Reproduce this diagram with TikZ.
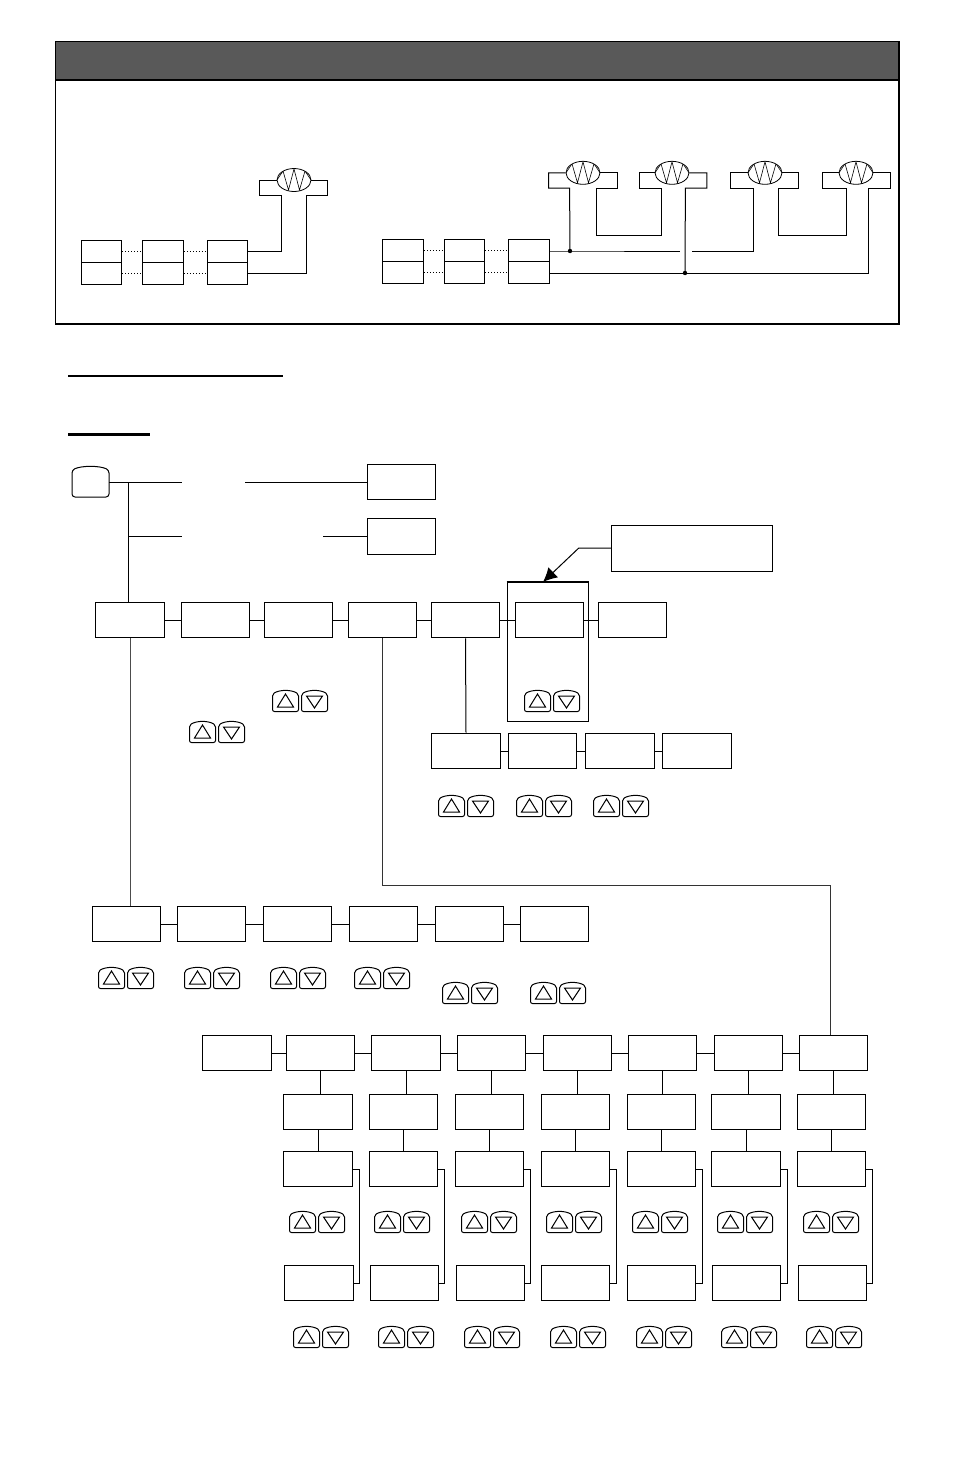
\documentclass[tikz,border=0pt]{standalone}
\usepackage{xcolor}
\usetikzlibrary{arrows.meta,shapes.geometric}

\begin{document}
\begin{tikzpicture}[x=0.5pt, y=-0.5pt, line width=0.5pt,
  screen/.style={draw, inner sep=0, minimum width=34.2pt, minimum height=17.8pt},
  halfbox/.style={draw, inner sep=0, minimum width=20.4pt, minimum height=11pt},
  heater/.style={draw, ellipse, line width=0.4pt, inner sep=0, minimum width=17pt, minimum height=11.5pt,
    path picture={\draw[line width=0.3pt, shift={(path picture bounding box.center)}]
      (-17,0) -- (-11,-9) -- (-5.5,10) -- (0,-11) -- (5.5,10) -- (11,-9) -- (17,0);}},
  dot/.style={circle, fill, inner sep=0, minimum size=2.2pt},
  updown/.pic={
    \draw[rounded corners=1pt] (-27.5,-7) .. controls (-20,-11.5) and (-9,-11.5) .. (-1.5,-7)
      -- (-1.5,10.5) -- (-27.5,10.5) -- cycle;
    \draw (-14.5,-7) -- (-6.5,6) -- (-22.5,6) -- cycle;
    \draw[rounded corners=1pt] (1.5,-7) .. controls (9,-11.5) and (20,-11.5) .. (27.5,-7)
      -- (27.5,10.5) -- (1.5,10.5) -- cycle;
    \draw (6.5,-5) -- (22.5,-5) -- (14.5,7) -- cycle;
  }]
\useasboundingbox (0,0) rectangle (954,1474);

% Panel with dark header
\fill[black!65] (55.5,41.5) rectangle (899,80);
\draw[line width=0.7pt] (55.5,41.5) rectangle (899,324);
\draw[line width=0.7pt] (55.5,80) -- (899,80);

% Single heater: three units
\node[halfbox] (a1t) at (101.5,251) {};
\node[halfbox] (a1b) at (101.5,273) {};
\node[halfbox] (a2t) at (163,251) {};
\node[halfbox] (a2b) at (163,273) {};
\node[halfbox] (a3t) at (227.5,251) {};
\node[halfbox] (a3b) at (227.5,273) {};
\draw[densely dotted] (a1t) -- (a2t) -- (a3t);
\draw[densely dotted] (a1b) -- (a2b) -- (a3b);
\node[heater] (h0) at (294,180) {};
\draw (h0.west) -| ++(-17,15) -- ++(22,0) |- (a3t.east);
\draw (h0.east) -| ++(16.5,15) -- ++(-21.5,0) |- (a3b.east);

% Four heaters: three units
\node[halfbox] (b1t) at (403,250) {};
\node[halfbox] (b1b) at (403,272) {};
\node[halfbox] (b2t) at (464.5,250) {};
\node[halfbox] (b2b) at (464.5,272) {};
\node[halfbox] (b3t) at (529,250) {};
\node[halfbox] (b3b) at (529,272) {};
\draw[densely dotted] (b1t) -- (b2t) -- (b3t);
\draw[densely dotted] (b1b) -- (b2b) -- (b3b);
\node[heater] (h1) at (583,172.8) {};
\node[heater] (h2) at (672,172.8) {};
\node[heater] (h3) at (765,172.8) {};
\node[heater] (h4) at (856,172.8) {};
\node[dot] (tap) at (570,251) {};
\node[dot] (bus) at (685,273) {};
\coordinate (gapl) at (680,251);
\coordinate (gapr) at (691.5,251);
\draw (tap -| b3t.east) -- (tap.center) -- (gapl);
\draw (bus -| b3b.east) -- (bus.center);
\draw (h1.west) -| ++(-17,15.2) -- ++(21,0) -- (tap.center);
\draw (h1.east) -| ++(17,15.2) -- ++(-21,0) -- ++(0,47) -- ++(65.4,0) -- ++(0,-47) -- ++(-22.6,0) |- (h2.west);
\draw (h2.east) -| ++(17.4,15.2) -- ++(-21.4,0) -- (bus.center);
\draw (h3.west) -| ++(-17,15.2) -- ++(22.7,0) |- (gapr);
\draw (h3.east) -| ++(16.3,15.2) -- ++(-20.3,0) -- ++(0,47) -- ++(67.6,0) -- ++(0,-47) -- ++(-23.3,0) |- (h4.west);
\draw (h4.east) -| ++(16.6,15.2) -- ++(-21.3,0) |- (bus.center);

% Heading rules
\draw[line width=1pt] (68,376) -- (283,376);
\draw[line width=1.5pt] (68,434.5) -- (150,434.5);

% Key and first branches
\node[inner sep=0, outer sep=0, minimum width=18.5pt, minimum height=15pt] (enter) at (90.5,482) {};
\draw[rounded corners=1.5pt] (72,470) .. controls (82,465.5) and (99,465.5) .. (109,470)
  -- (109,497) -- (72,497) -- cycle;
\node[screen] (t1) at (401.5,482) {};
\node[screen] (t2) at (401.5,536.5) {};
\coordinate (fork1) at (128,482);
\coordinate (fork2) at (128,536.5);
\coordinate (cut1) at (182,482);
\coordinate (cut2) at (182,536.5);
\coordinate (cut3) at (245,482);
\coordinate (cut4) at (323,536.5);
\draw (enter.east) -- (cut1);
\draw (cut3) -- (t1.west);
\draw (fork2) -- (cut2);
\draw (cut4) -- (t2.west);

% Main row
\node[screen] (m1) at (130,620) {};
\node[screen] (m2) at (215.5,620) {};
\node[screen] (m3) at (298.5,620) {};
\node[screen] (m4) at (382.5,620) {};
\node[screen] (m5) at (465.5,620) {};
\node[screen] (m6) at (549.5,620) {};
\node[screen] (m7) at (632.5,620) {};
\draw (m1) -- (m2) -- (m3) -- (m4) -- (m5) -- (m6) -- (m7);
\draw (fork1) -- (fork1 |- m1.north);

% Note with arrow into the frame
\node[draw, inner sep=0, minimum width=80.7pt, minimum height=23pt] (note) at (692,548) {};
\node[draw, inner sep=0, minimum width=40.5pt, minimum height=69.5pt] (frame) at (547.5,651.5) {};
\draw[line width=1pt] (frame.north west) -- (frame.north east);
\coordinate (tip) at (543,582);
\draw[-{Latex[length=7pt,width=7pt]}] (note.west) -- ++(-32,0) -- (tip);

% Keys beside the main row
\pic at (300,701) {updown};
\pic at (217,732) {updown};
\pic at (552,701) {updown};

% Second row
\node[screen] (n1) at (466,751) {};
\node[screen] (n2) at (542.5,751) {};
\node[screen] (n3) at (620,751) {};
\node[screen] (n4) at (697,751) {};
\draw (n1) -- (n2) -- (n3) -- (n4);
\draw (m5.south) -- (n1.north);
\pic at (466,806) {updown};
\pic at (544,806) {updown};
\pic at (621,806) {updown};

% Third row
\node[screen] (o1) at (126.5,924) {};
\node[screen] (o2) at (211.5,924) {};
\node[screen] (o3) at (297.5,924) {};
\node[screen] (o4) at (383.5,924) {};
\node[screen] (o5) at (469.5,924) {};
\node[screen] (o6) at (554.5,924) {};
\draw (o1) -- (o2) -- (o3) -- (o4) -- (o5) -- (o6);
\draw[black!70] (m1.south) -- (m1.south |- o1.north);
\pic at (126,978) {updown};
\pic at (212,978) {updown};
\pic at (298,978) {updown};
\pic at (382,978) {updown};
\pic at (470,993) {updown};
\pic at (558,993) {updown};

% Fourth row
\node[screen] (p0) at (237,1053) {};
\node[screen] (p1) at (320.5,1053) {};
\node[screen] (p2) at (406,1053) {};
\node[screen] (p3) at (491.5,1053) {};
\node[screen] (p4) at (577.5,1053) {};
\node[screen] (p5) at (662.5,1053) {};
\node[screen] (p6) at (748.5,1053) {};
\node[screen] (p7) at (833.5,1053) {};
\draw (p0) -- (p1) -- (p2) -- (p3) -- (p4) -- (p5) -- (p6) -- (p7);
\coordinate (turn) at (830,885);
\draw[black!80] (m4.south) |- (turn) -- (turn |- p7.north);

% Columns below the fourth row
\node[screen] (q1) at (318,1112) {};
\node[screen] (q2) at (403.5,1112) {};
\node[screen] (q3) at (489.5,1112) {};
\node[screen] (q4) at (575.5,1112) {};
\node[screen] (q5) at (661.5,1112) {};
\node[screen] (q6) at (746,1112) {};
\node[screen] (q7) at (831.5,1112) {};
\node[screen] (r1) at (318,1169) {};
\node[screen] (r2) at (403.5,1169) {};
\node[screen] (r3) at (489.5,1169) {};
\node[screen] (r4) at (575.5,1169) {};
\node[screen] (r5) at (661.5,1169) {};
\node[screen] (r6) at (746,1169) {};
\node[screen] (r7) at (831.5,1169) {};
\node[screen] (s1) at (319,1283) {};
\node[screen] (s2) at (404.5,1283) {};
\node[screen] (s3) at (490.5,1283) {};
\node[screen] (s4) at (575.5,1283) {};
\node[screen] (s5) at (661.5,1283) {};
\node[screen] (s6) at (746.5,1283) {};
\node[screen] (s7) at (832.5,1283) {};
\draw (p1.south) -- (p1.south |- q1.north) (q1) -- (r1);
\draw (p2.south) -- (p2.south |- q2.north) (q2) -- (r2);
\draw (p3.south) -- (p3.south |- q3.north) (q3) -- (r3);
\draw (p4.south) -- (p4.south |- q4.north) (q4) -- (r4);
\draw (p5.south) -- (p5.south |- q5.north) (q5) -- (r5);
\draw (p6.south) -- (p6.south |- q6.north) (q6) -- (r6);
\draw (p7.south) -- (p7.south |- q7.north) (q7) -- (r7);
\draw (r1.east) -- ++(6.5,0) |- (s1.east);
\draw (r2.east) -- ++(6.5,0) |- (s2.east);
\draw (r3.east) -- ++(6.5,0) |- (s3.east);
\draw (r4.east) -- ++(6.5,0) |- (s4.east);
\draw (r5.east) -- ++(6.5,0) |- (s5.east);
\draw (r6.east) -- ++(6.5,0) |- (s6.east);
\draw (r7.east) -- ++(6.5,0) |- (s7.east);

% Keys in the columns
\pic at (317,1222) {updown};
\pic at (402,1222) {updown};
\pic at (489,1222) {updown};
\pic at (574,1222) {updown};
\pic at (660,1222) {updown};
\pic at (745,1222) {updown};
\pic at (831,1222) {updown};
\pic at (321,1337) {updown};
\pic at (406,1337) {updown};
\pic at (492,1337) {updown};
\pic at (578,1337) {updown};
\pic at (664,1337) {updown};
\pic at (749,1337) {updown};
\pic at (834,1337) {updown};
\end{tikzpicture}
\end{document}
